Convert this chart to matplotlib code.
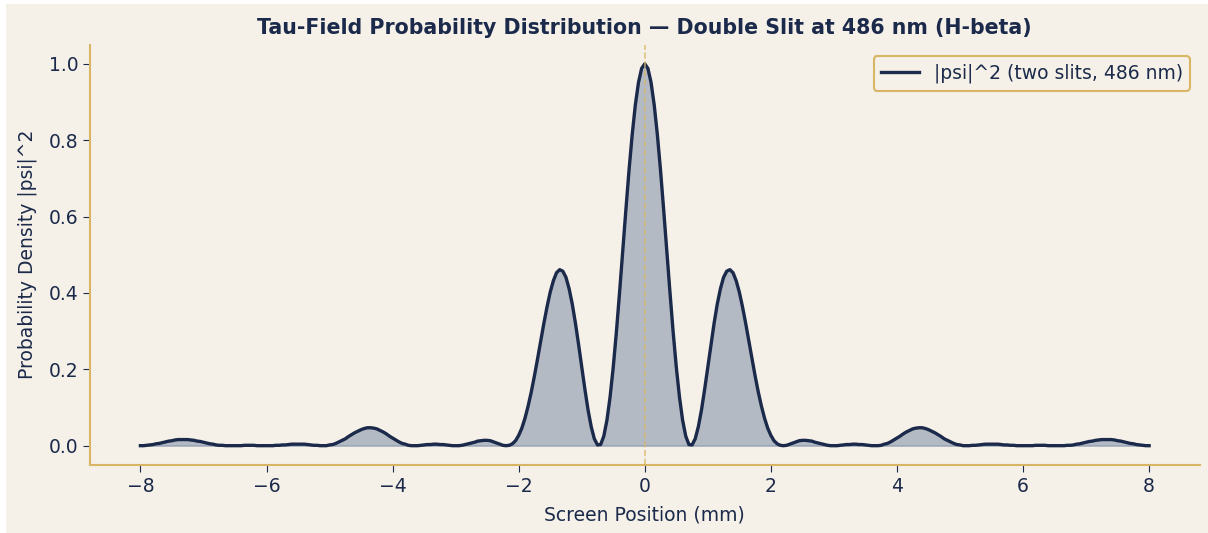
import matplotlib

matplotlib.use("Agg")
import matplotlib.pyplot as plt
import numpy as np
from matplotlib.patches import Rectangle

# Right half of the screen (0 .. 8 mm, every 0.05 mm); the pattern is symmetric about 0
screen_mm_right = np.linspace(0, 8, 161)

# |psi|^2 for x >= 0
density_right = [
    1.000, 0.988, 0.951, 0.892, 0.814, 0.721, 0.617, 0.509, 0.401, 0.298,
    0.206, 0.128, 0.067, 0.025, 0.003, 0.002, 0.018, 0.050, 0.094, 0.148,
    0.206, 0.265, 0.321, 0.371, 0.411, 0.441, 0.457, 0.461, 0.453, 0.432,
    0.402, 0.364, 0.321, 0.275, 0.228, 0.183, 0.141, 0.104, 0.072, 0.046,
    0.027, 0.013, 0.005, 0.001, 0.000, 0.001, 0.004, 0.007, 0.010, 0.013,
    0.014, 0.014, 0.013, 0.012, 0.009, 0.007, 0.005, 0.003, 0.001, 0.000,
    0.000, 0.000, 0.001, 0.002, 0.003, 0.003, 0.004, 0.004, 0.003, 0.003,
    0.002, 0.001, 0.000, 0.000, 0.000, 0.001, 0.004, 0.006, 0.010, 0.015,
    0.020, 0.025, 0.031, 0.036, 0.040, 0.044, 0.046, 0.047, 0.047, 0.045,
    0.042, 0.038, 0.034, 0.029, 0.024, 0.018, 0.014, 0.010, 0.006, 0.003,
    0.002, 0.000, 0.000, 0.000, 0.001, 0.001, 0.002, 0.003, 0.004, 0.004,
    0.004, 0.004, 0.004, 0.003, 0.002, 0.002, 0.001, 0.001, 0.000, 0.000,
    0.000, 0.000, 0.000, 0.000, 0.001, 0.001, 0.001, 0.001, 0.000, 0.000,
    0.000, 0.000, 0.000, 0.000, 0.001, 0.001, 0.002, 0.004, 0.005, 0.007,
    0.009, 0.011, 0.012, 0.014, 0.015, 0.016, 0.016, 0.016, 0.016, 0.015,
    0.013, 0.012, 0.010, 0.008, 0.006, 0.005, 0.003, 0.002, 0.001, 0.000,
    0.000,
]

# mirror to get the full screen -8 .. 8 mm
screen_mm = np.concatenate([-screen_mm_right[:0:-1], screen_mm_right])
density = np.concatenate([np.array(density_right)[:0:-1], density_right])

BG = "#F5F0E8"
NAVY = "#1B2A4A"
FILL = "#2A4878"
GOLD = "#D8B666"

fig, ax = plt.subplots(figsize=(12.08, 5.33), dpi=100)
fig.patch.set_facecolor("white")
# beige panel, leaving the thin white strip on the top and left edges
fig.patches.append(Rectangle((6 / 1208, 0), 1 - 6 / 1208, 1 - 4 / 533, transform=fig.transFigure,
                             facecolor=BG, edgecolor="none", zorder=-10))
ax.set_facecolor(BG)
fig.subplots_adjust(left=0.0745, right=0.993, bottom=0.128, top=0.916)

ax.plot(screen_mm, density, color=NAVY, lw=2.4, label="|psi|^2 (two slits, 486 nm)")
ax.fill_between(screen_mm, density, color=FILL, alpha=0.32)
ax.axvline(0, color=GOLD, ls="--", lw=1.2, alpha=0.8)

ax.set_title("Tau-Field Probability Distribution — Double Slit at 486 nm (H-beta)",
             fontsize=14.8, fontweight="bold", color=NAVY, pad=8)
ax.set_xlabel("Screen Position (mm)", fontsize=13.5, color=NAVY, labelpad=7)
ax.set_ylabel("Probability Density |psi|^2", fontsize=13.5, color=NAVY, labelpad=8)

ax.set_xticks([-8, -6, -4, -2, 0, 2, 4, 6, 8])
ax.set_yticks([0.0, 0.2, 0.4, 0.6, 0.8, 1.0])
ax.tick_params(colors=NAVY, labelsize=13.5, length=5)

for side in ["top", "right"]:
    ax.spines[side].set_visible(False)
for side in ["left", "bottom"]:
    ax.spines[side].set_color(GOLD)
    ax.spines[side].set_linewidth(1.5)

leg = ax.legend(loc="upper right", bbox_to_anchor=(1.0, 0.995), fontsize=13.5, facecolor=BG,
                edgecolor=GOLD, labelcolor=NAVY, framealpha=1.0)
leg.get_frame().set_linewidth(1.5)

fig.savefig("out.png", dpi=100, facecolor="white")
